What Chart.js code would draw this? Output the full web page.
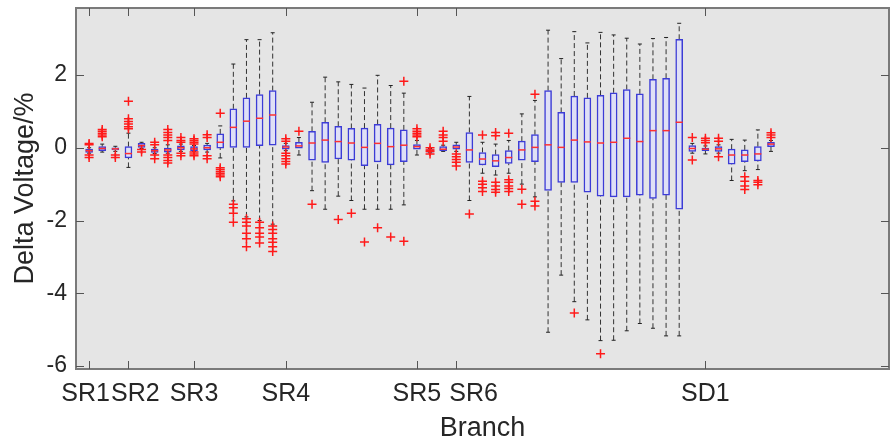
<!DOCTYPE html>
<html>
<head>
<meta charset="utf-8">
<script src="https://cdn.jsdelivr.net/npm/chart.js@4.4.0/dist/chart.umd.min.js"></script>
<style>
  html, body { margin: 0; padding: 0; background: #ffffff; }
  #wrap { width: 895px; height: 445px; }
</style>
</head>
<body>
<div id="wrap"><canvas id="c" width="895" height="445"></canvas></div>
<script>
// branch tick labels and where they sit on the box index axis
const tickLabels = ['SR1 ', '  SR2', 'SR3', 'SR4', 'SR5', '     SR6', 'SD1'];
const tickPositions = [1, 4, 9, 16, 26, 29, 48];
const yTicks = [-6, -4, -2, 0, 2];

// box statistics, one entry per box (index 1..53)
const whiskerLow = [-0.15, -0.12, -0.1, -0.54, -0.02, -0.16, -0.15, -0.1, -0.1, -0.12,
  -0.28, -1.46, -1.9, -2.0, -2.1, -0.08, -0.2, -1.18, -1.69, -1.33,
  -1.45, -1.69, -1.69, -1.69, -1.57, -0.2, -0.14, -0.1, -0.1, -1.45,
  -0.7, -0.75, -0.7, -1.0, -1.35, -5.07, -3.5, -4.23, -4.73, -5.3,
  -5.29, -5.03, -4.83, -4.96, -5.17, -5.17, -0.15, -0.17, -0.15, -0.9,
  -0.63, -0.6, -0.1];
const q1 = [-0.13, -0.08, -0.06, -0.28, 0.01, -0.13, -0.12, -0.06, -0.08, -0.06,
  -0.01, 0.01, 0.01, 0.06, 0.07, -0.04, -0.01, -0.34, -0.4, -0.31,
  -0.34, -0.49, -0.39, -0.47, -0.38, -0.04, -0.12, -0.08, -0.04, -0.4,
  -0.47, -0.52, -0.43, -0.34, -0.38, -1.17, -0.95, -0.95, -1.22, -1.33,
  -1.35, -1.35, -1.3, -1.39, -1.3, -1.69, -0.1, -0.08, -0.1, -0.45,
  -0.38, -0.36, 0.03];
const median = [-0.08, -0.02, -0.03, -0.16, 0.06, -0.08, -0.06, 0.0, -0.03, 0.0,
  0.15, 0.56, 0.73, 0.81, 0.9, 0.02, 0.05, 0.13, 0.21, 0.17,
  0.13, 0.01, 0.12, 0.03, 0.07, 0.03, -0.08, -0.04, 0.02, -0.06,
  -0.31, -0.36, -0.27, -0.06, 0.01, 0.08, 0.01, 0.21, 0.16, 0.13,
  0.15, 0.26, 0.17, 0.47, 0.47, 0.7, -0.02, -0.04, -0.03, -0.2,
  -0.2, -0.17, 0.1];
const q3 = [-0.04, 0.03, 0.0, 0.03, 0.12, -0.04, -0.01, 0.05, 0.03, 0.07,
  0.38, 1.07, 1.37, 1.46, 1.57, 0.06, 0.15, 0.45, 0.7, 0.59,
  0.53, 0.54, 0.64, 0.54, 0.49, 0.09, -0.05, 0.03, 0.08, 0.42,
  -0.13, -0.19, -0.08, 0.18, 0.36, 1.57, 0.97, 1.42, 1.37, 1.44,
  1.51, 1.6, 1.48, 1.88, 1.91, 2.98, 0.06, -0.01, 0.03, -0.04,
  -0.06, 0.03, 0.15];
const whiskerHigh = [0.0, 0.1, 0.04, 0.4, 0.15, 0.0, 0.08, 0.1, 0.06, 0.12,
  0.6, 2.3, 2.97, 2.97, 3.16, 0.12, 0.28, 1.25, 1.94, 1.81,
  1.74, 1.64, 1.99, 1.71, 1.5, 0.2, -0.02, 0.07, 0.15, 1.41,
  0.15, 0.1, 0.2, 0.93, 1.3, 3.23, 2.45, 3.19, 2.88, 3.17,
  3.1, 3.01, 2.85, 3.0, 3.03, 3.42, 0.12, 0.05, 0.08, 0.23,
  0.21, 0.49, 0.2];
const outliers = [
  [0.12, 0.08, -0.2, -0.27], [0.3, 0.35, 0.4, 0.45, 0.5], [-0.2, -0.27],
  [1.28, 0.8, 0.72, 0.65, 0.58, 0.52], [-0.05, -0.12], [0.15, 0.08, -0.2, -0.3],
  [0.5, 0.42, 0.35, 0.28, 0.2, -0.2, -0.27, -0.35, -0.42], [0.28, 0.2, 0.15, -0.15, -0.22],
  [0.25, 0.2, 0.15, 0.1, -0.12, -0.17, -0.22], [0.36, 0.28, -0.22, -0.3],
  [0.95, -0.55, -0.6, -0.65, -0.7, -0.75, -0.8], [-1.55, -1.65, -1.8, -2.05],
  [-1.95, -2.05, -2.15, -2.35, -2.5, -2.72], [-2.05, -2.2, -2.35, -2.45, -2.62],
  [-2.15, -2.25, -2.35, -2.5, -2.6, -2.72, -2.85], [0.25, 0.18, -0.15, -0.22, -0.3, -0.38, -0.45],
  [0.45], [-1.55], [], [-1.97], [-1.8], [-2.59], [-2.2], [-2.45], [1.83, -2.57],
  [0.52, 0.45, 0.4, 0.35, 0.3], [0.0, -0.06, -0.1, -0.17], [0.45, 0.35, 0.28, 0.18],
  [-0.17, -0.25, -0.32, -0.4, -0.5], [-1.82], [0.35, -0.92, -1.0, -1.1, -1.2],
  [0.42, 0.33, -0.95, -1.05, -1.15, -1.22], [0.4, -0.88, -0.95, -1.05, -1.12, -1.2],
  [-1.14, -1.55], [1.47, -1.47, -1.6], [], [], [-4.54], [], [-5.66], [], [], [], [], [], [],
  [0.28, -0.34], [0.26, 0.2, 0.14], [0.26, 0.18, -0.25], [], [-0.8, -0.92, -1.05, -1.15],
  [-0.9, -0.95, -1.02], [0.41, 0.35, 0.28]
];

const boxData = q1.map((v, k) => ({ x: k + 1, y: [v, q3[k]] }));
const medianData = median.map((v, k) => ({ x: k + 1, y: v }));
const capData = [];
const whiskerData = [];
whiskerLow.forEach((lo, k) => {
  const x = k + 1;
  capData.push({ x: x, y: lo }, { x: x, y: whiskerHigh[k] });
  whiskerData.push({ x: x, y: q3[k] }, { x: x, y: whiskerHigh[k] }, { x: x, y: null });
  whiskerData.push({ x: x, y: lo }, { x: x, y: q1[k] }, { x: x, y: null });
});
const outlierData = [];
outliers.forEach((list, k) => list.forEach(v => outlierData.push({ x: k + 1, y: v })));

const FONT = 'Liberation Sans, Arial, sans-serif';
const TEXT = '#262626';
const AXIS = '#7a7a7a';

const frame = {
  id: 'frame',
  beforeDatasetsDraw(chart) {
    const a = chart.chartArea, ctx = chart.ctx;
    ctx.save();
    ctx.fillStyle = '#e5e5e5';
    ctx.fillRect(a.left, a.top, a.right - a.left, a.bottom - a.top);
    ctx.restore();
  },
  afterDraw(chart) {
    const a = chart.chartArea, ctx = chart.ctx;
    const xs = chart.scales.x, ys = chart.scales.y;
    ctx.save();
    ctx.strokeStyle = AXIS;
    ctx.lineWidth = 2;
    ctx.strokeRect(a.left, a.top, a.right - a.left, a.bottom - a.top);
    ctx.lineWidth = 1;
    ctx.strokeStyle = '#555555';
    ctx.beginPath();
    tickPositions.forEach(v => {
      const px = Math.round(xs.getPixelForValue(v)) + 0.5;
      ctx.moveTo(px, a.bottom); ctx.lineTo(px, a.bottom - 8);
      ctx.moveTo(px, a.top); ctx.lineTo(px, a.top + 8);
    });
    yTicks.forEach(v => {
      const py = Math.round(ys.getPixelForValue(v)) + 0.5;
      ctx.moveTo(a.left, py); ctx.lineTo(a.left + 8, py);
      ctx.moveTo(a.right, py); ctx.lineTo(a.right - 8, py);
    });
    ctx.stroke();
    ctx.restore();
  }
};

new Chart(document.getElementById('c'), {
  type: 'bar',
  data: {
    datasets: [
      {
        type: 'scatter',
        data: outlierData,
        pointStyle: 'cross',
        pointRadius: 4.5,
        borderColor: '#ff1a1a',
        borderWidth: 1.5,
        backgroundColor: '#ff1a1a'
      },
      {
        type: 'scatter',
        data: medianData,
        pointStyle: 'line',
        pointRadius: 3.5,
        borderColor: '#ff3030',
        borderWidth: 1.5
      },
      {
        type: 'bar',
        data: boxData,
        barThickness: 7,
        backgroundColor: '#dfe0f6',
        borderColor: '#3c3cd6',
        borderWidth: 1.5,
        borderSkipped: false
      },
      {
        type: 'scatter',
        data: capData,
        pointStyle: 'line',
        pointRadius: 2,
        borderColor: '#222222',
        borderWidth: 1
      },
      {
        type: 'line',
        data: whiskerData,
        borderColor: '#333333',
        borderWidth: 1,
        borderDash: [5, 3],
        pointRadius: 0,
        spanGaps: false,
        fill: false
      }
    ]
  },
  options: {
    responsive: false,
    animation: false,
    layout: { padding: { top: 8, right: 3, left: 0, bottom: 0 } },
    plugins: { legend: { display: false }, tooltip: { enabled: false } },
    scales: {
      x: {
        type: 'linear',
        min: 0,
        max: 62,
        offset: false,
        grid: { display: false, drawTicks: false },
        border: { display: false },
        afterBuildTicks: s => { s.ticks = tickPositions.map(v => ({ value: v })); },
        afterFit: s => { s.height = 76; s.paddingLeft = 0; s.paddingRight = 0; },
        ticks: {
          autoSkip: false,
          maxRotation: 0,
          padding: 10,
          color: TEXT,
          font: { family: FONT, size: 25 },
          callback: v => tickLabels[tickPositions.indexOf(v)]
        },
        title: {
          display: true,
          text: 'Branch',
          color: TEXT,
          font: { family: FONT, size: 27 },
          padding: { top: 0, bottom: 0 }
        }
      },
      y: {
        min: -6.08,
        max: 3.84,
        grid: { display: false, drawTicks: false },
        border: { display: false },
        afterBuildTicks: s => { s.ticks = yTicks.map(v => ({ value: v })); },
        afterFit: s => { s.width = 76; s.paddingTop = 0; s.paddingBottom = 0; },
        ticks: {
          padding: 9,
          color: TEXT,
          font: { family: FONT, size: 23 }
        },
        title: {
          display: true,
          text: 'Delta Voltage/%',
          color: TEXT,
          font: { family: FONT, size: 27 },
          padding: { top: 9, bottom: 0 }
        }
      }
    }
  },
  plugins: [frame]
});
</script>
</body>
</html>
